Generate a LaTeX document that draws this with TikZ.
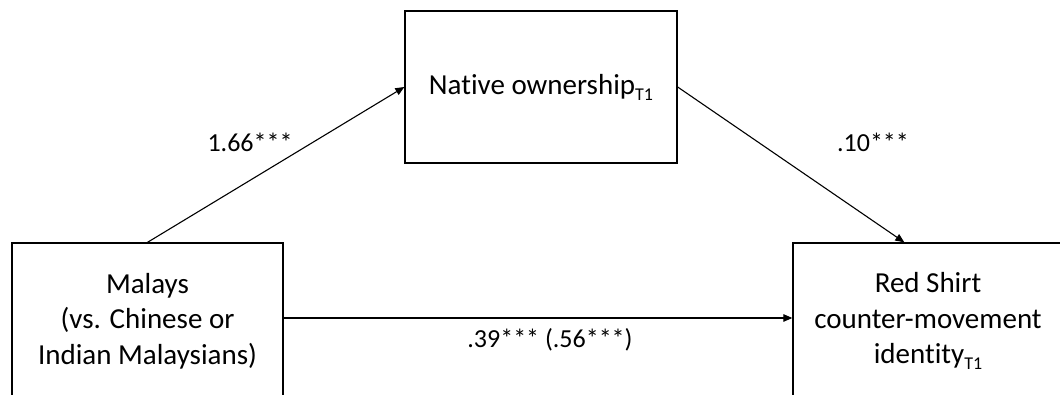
\documentclass[tikz,border=0pt]{standalone}
\usepackage{fontspec}
\setmainfont{Carlito}[Ligatures={NoCommon}]
\usetikzlibrary{arrows.meta}
\newcommand{\subTone}{\raisebox{-6pt}{\fontsize{18}{18}\selectfont T1}}
\begin{document}
\begin{tikzpicture}[x=1pt,y=1pt,
  box/.style={draw, line width=1.3pt, align=center, inner sep=0pt, font=\fontsize{29}{35.7}\selectfont},
  lbl/.style={anchor=base, inner sep=0pt, font=\fontsize{26}{30}\selectfont},
  arr/.style={line width=1.1pt, -{Triangle[length=9pt,width=7.5pt]}}]
\useasboundingbox (0,0) rectangle (1060,395);
\clip (0,0) rectangle (1060,395);
\fill[white] (0,0) rectangle (1060,395);
\node[box, minimum width=272pt, minimum height=152pt] (top) at (541,308) {Native ownership\subTone};
\node[box, minimum width=271pt, minimum height=156pt] (lb) at (147.5,74) {Malays\\(vs. Chinese or\\Indian Malaysians)};
\node[box, minimum width=270pt, minimum height=156pt] (rb) at (928,74) {Red Shirt\\counter-movement\\identity\subTone};
\draw[arr] (lb.north) -- (top.west);
\draw[arr] (top.east) -- ([xshift=112pt]rb.north west);
\draw[arr] ([yshift=3pt]lb.east) -- ([yshift=3pt]rb.west);
\node[lbl] (l1) at (250,243) {1.66***};
\node[lbl] (l2) at (873,243) {.10***};
\node[lbl] (l3) at (550,47) {.39*** (.56***)};
\end{tikzpicture}
\end{document}
